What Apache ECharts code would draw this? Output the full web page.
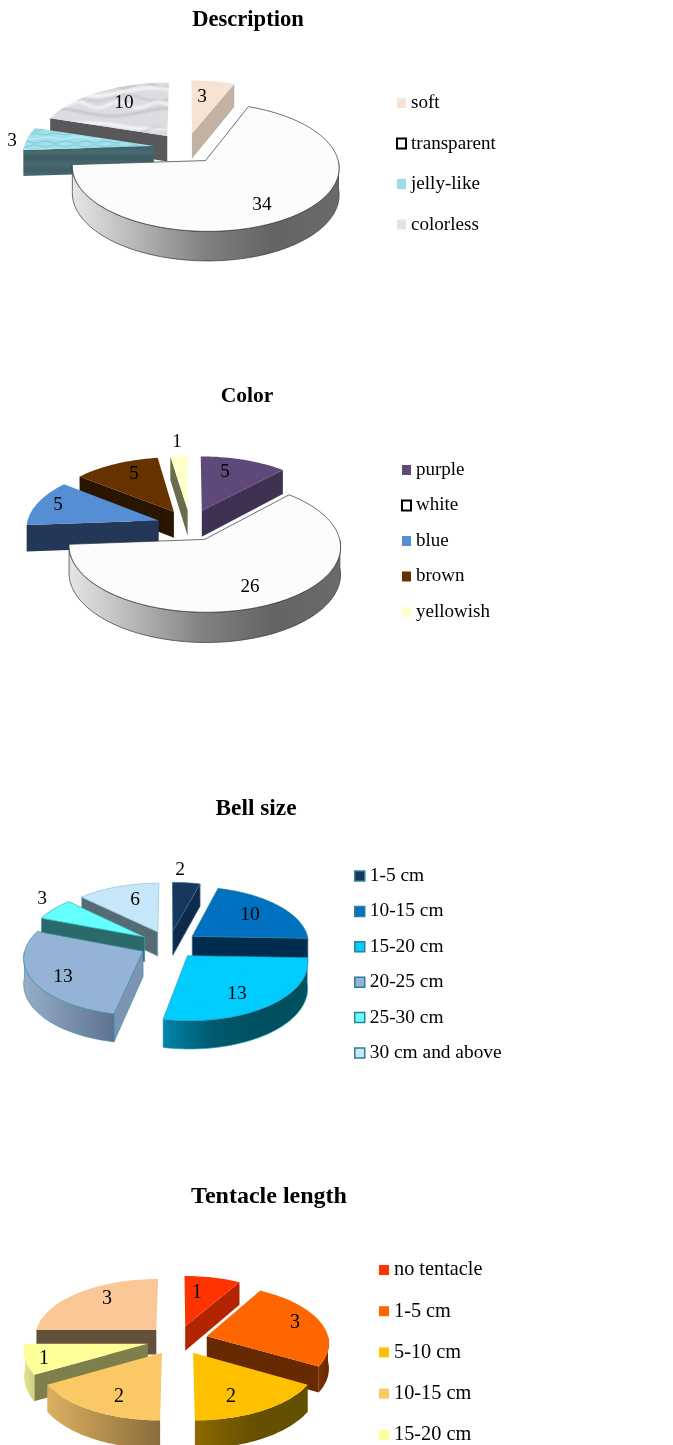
<!DOCTYPE html>
<html>
<head>
<meta charset="utf-8">
<title>Jellyfish charts</title>
<script src="https://cdn.jsdelivr.net/npm/echarts@6/dist/echarts.min.js"></script>
<style>
html, body { margin: 0; padding: 0; background: #fff; overflow: hidden; height: 1445px; }
.box { position: absolute; left: 0; width: 673px; }
</style>
</head>
<body>
<div class="box" id="desc-box" style="top:0;height:370px"></div>
<div class="box" id="color-box" style="top:370px;height:410px"></div>
<div class="box" id="bell-box" style="top:780px;height:390px"></div>
<div class="box" id="tent-box" style="top:1170px;height:275px"></div>
<script>
// data
var descCategories = ['soft', 'transparent', 'jelly-like', 'colorless'];
var descValues = [3, 34, 3, 10];

var colorCategories = ['purple', 'white', 'blue', 'brown', 'yellowish'];
var colorValues = [5, 26, 5, 5, 1];

var bellCategories = ['1-5 cm', '10-15 cm', '15-20 cm', '20-25 cm', '25-30 cm', '30 cm and above'];
var bellValues = [2, 10, 13, 13, 3, 6];

var tentCategories = ['no tentacle', '1-5 cm', '5-10 cm', '10-15 cm', '15-20 cm', '20 cm and above'];
var tentValues = [1, 3, 2, 2, 1, 3];

var FONT = '"Liberation Serif", "Times New Roman", serif';
var EXPLODE = 0.25;   // slice pull-out, as a share of the radius
var PERSP = 0.1;      // the far side of the disc is drawn smaller

function hGrad(stops) {
    var list = [];
    for (var i = 0; i < stops.length; i++) {
        list.push({ offset: stops.length > 1 ? i / (stops.length - 1) : 0, color: stops[i] });
    }
    return new echarts.graphic.LinearGradient(0, 0, 1, 0, list);
}
function stripes(x2, y2, stops) {
    var list = [];
    for (var i = 0; i < stops.length; i++) {
        list.push({ offset: i / (stops.length - 1), color: stops[i] });
    }
    return new echarts.graphic.LinearGradient(0, 0, x2, y2, list);
}

// wavy texture for the marble and water fills of the Description chart
function waveTexture(w, h, base, blur, veins) {
    var cv = document.createElement('canvas');
    cv.width = w;
    cv.height = h;
    var ctx = cv.getContext('2d');
    ctx.fillStyle = base;
    ctx.fillRect(0, 0, w, h);
    ctx.filter = 'blur(' + blur + 'px)';
    veins.forEach(function (v) {
        ctx.strokeStyle = v[0];
        ctx.lineWidth = v[1];
        ctx.beginPath();
        for (var x = -4; x <= w + 4; x += 2) {
            var y = v[2] + v[3] * Math.sin(x / w * 2 * Math.PI * v[4] + v[5]);
            if (x === -4) ctx.moveTo(x, y); else ctx.lineTo(x, y);
        }
        ctx.stroke();
    });
    return { image: cv, repeat: 'repeat' };
}

var GREY = 'rgba(135,137,145,0.5)';
var PALE = 'rgba(250,250,252,0.9)';
var marble = waveTexture(120, 60, '#dcdde0', 0.8, [
    [PALE, 3, 6, 3, 1, 0],
    [GREY, 1.2, 11, 4, 2, 0.5],
    [PALE, 2.5, 19, 3, 2, 2],
    [GREY, 1.6, 25, 3, 3, 1],
    [PALE, 3, 32, 4, 1, 3],
    [GREY, 1, 38, 3, 2, 4],
    [PALE, 2.5, 45, 3, 3, 5],
    [GREY, 1.4, 52, 4, 1, 2]
]);
var water = waveTexture(60, 12, '#a2e0ea', 0.4, [
    ['rgba(110,195,212,0.7)', 1.1, 2, 1, 3, 0],
    ['rgba(200,242,246,0.8)', 1.1, 6, 1, 2, 1],
    ['rgba(110,195,212,0.7)', 1.1, 10, 1, 3, 3]
]);

var whiteWall = ['#e6e6e6', '#b4b4b4', '#808080', '#646464', '#6a6a6a'];

var descStyle = {
    top: ['#f6e3d4', '#fcfcfc', water, marble],
    wall: [['#c2b2a4'], whiteWall, ['#44646c'], ['#555555']],
    side: ['#c2b2a4', '#888888',
        stripes(0, 1, ['#3f5f68', '#4a6a72', '#3c5c64', '#4a6a72', '#3f5f68', '#4a6a72']),
        '#58585a'],
    edge: [null, '#333333', null, null],
    legend: ['#f8e3d6', '#ffffff', '#9adbe6', '#e2e3e8']
};
var colorStyle = {
    top: ['#5f497a', '#fcfcfc', '#558ed5', '#663300', '#ffffcc'],
    wall: [['#3f3151'], whiteWall, ['#1f3858'], ['#2a1500'], ['#8a8a66']],
    side: ['#3f3151', '#888888', '#223856', '#2a1500', '#6b6b4e'],
    edge: [null, '#333333', null, null, null],
    legend: ['#5f497a', '#ffffff', '#558ed5', '#663300', '#ffffcc']
};
var bellStyle = {
    top: ['#17375e', '#0070c0', '#00ccff', '#95b3d7', '#66ffff', '#c6e6fa'],
    wall: [['#10294a'], ['#002d4f'], ['#0085a8', '#005a70', '#00505f', '#00505f'], ['#97aec9', '#5c7290'], ['#2a6a6a'], ['#556a75']],
    side: ['#10294a', '#002d4f', '#005a70', '#7d93b2', '#2a6a6a', '#556a75'],
    edge: ['#2f6f8a', '#2f7f9a', '#2f9fba', '#3f8fa5', '#3fa5aa', '#8fc0d5'],
    legend: ['#17375e', '#0070c0', '#00ccff', '#95b3d7', '#66ffff', '#c6e6fa'],
    legendBorder: '#2f7f95'
};
var tentStyle = {
    top: ['#ff3300', '#ff6600', '#ffc000', '#fac864', '#ffff99', '#fac896'],
    wall: [['#b32400'], ['#7a3100', '#662900'], ['#8e6a00', '#665000', '#615000'], ['#dcb060', '#8a6c3c'], ['#e2e290', '#d0d080'], ['#63503c']],
    side: ['#b32400', '#662900', '#665000', '#8a6c3c', '#7f7f4c', '#63503c'],
    edge: [null, null, null, null, null, null],
    legend: ['#ff3300', '#ff6600', '#ffc000', '#fac864', '#ffff99', '#fac896']
};

// sizes and positions, in px inside each chart box
// title: x, y, font size   legend: x, y of first row, row step, font size, swatch size
var descLayout = {
    cx: 186, cy: 148, r: 130, ry: 61, depth: 26,
    title: [248, 22.5, 22.6], legend: [396, 103, 40.5, 19.1, 9], labelSize: 19.3,
    labels: [[202, 97], [262, 204.5], [12, 141], [124, 103]]
};
var colorLayout = {
    cx: 190, cy: 155, r: 132, ry: 62.5, depth: 26.5,
    title: [247, 28, 21.5], legend: [401, 100, 35.5, 19, 9], labelSize: 19,
    labels: [[225, 102.5], [250, 217.5], [58, 135.5], [134, 104.5], [177, 72.5]]
};
var bellLayout = {
    cx: 169, cy: 164.5, r: 117, ry: 56, depth: 25,
    title: [256, 31, 23.4], legend: [354, 96, 35.4, 19.4, 10], labelSize: 19.5,
    labels: [[180, 89.5], [250, 134.5], [237, 213.5], [63, 196.5], [42, 118.5], [135, 119.5]]
};
var tentLayout = {
    cx: 177.5, cy: 170, r: 122, ry: 58, depth: 25,
    title: [269, 29, 24], legend: [379, 100, 41.2, 20.3, 10], labelSize: 20,
    labels: [[197, 122.5], [295, 152.5], [231, 226.5], [119, 226.5], [44, 188.5], [107, 128.5]]
};

function project(lay, u, v, h) {
    var p = 1 / (1 + PERSP * v);
    return [lay.cx + lay.r * u * p, lay.cy - lay.ry * v * p + h * p];
}

function rad(a) { return a * Math.PI / 180; }

// builds the faces of one wedge, angles are clockwise from 12 o'clock
function wedgeFaces(lay, a0, a1) {
    var mid = rad((a0 + a1) / 2);
    var ox = EXPLODE * Math.sin(mid), oy = EXPLODE * Math.cos(mid);
    var rim = [];
    var n = Math.max(2, Math.ceil((a1 - a0) / 2));
    for (var i = 0; i <= n; i++) {
        rim.push(a0 + (a1 - a0) * i / n);
    }
    function at(a, h) {
        return project(lay, ox + Math.sin(rad(a)), oy + Math.cos(rad(a)), h);
    }
    function apex(h) { return project(lay, ox, oy, h); }

    var top = [apex(0)];
    rim.forEach(function (a) { top.push(at(a, 0)); });

    // outer wall, only the part that faces the viewer
    var front = rim.filter(function (a) { return a >= 90 && a <= 270; });
    var wall = null;
    if (front.length > 1) {
        wall = [];
        front.forEach(function (a) { wall.push(at(a, 0)); });
        front.slice().reverse().forEach(function (a) { wall.push(at(a, lay.depth)); });
    }

    var sides = [];
    if (Math.sin(rad(a0)) < 0) {
        sides.push([apex(0), at(a0, 0), at(a0, lay.depth), apex(lay.depth)]);
    }
    if (Math.sin(rad(a1)) > 0.001) {
        sides.push([apex(0), at(a1, 0), at(a1, lay.depth), apex(lay.depth)]);
    }
    return { top: top, wall: wall, sides: sides };
}

function drawPie(domId, title, categories, values, style, lay) {
    var chart = echarts.init(document.getElementById(domId));
    var total = 0;
    values.forEach(function (v) { total += v; });

    var slices = [];
    var start = 0;
    values.forEach(function (v, i) {
        var sweep = v / total * 360;
        slices.push({ index: i, a0: start, a1: start + sweep });
        start += sweep;
    });
    // far slices first so the near ones paint over them
    var order = slices.slice().sort(function (a, b) {
        return Math.cos(rad((b.a0 + b.a1) / 2)) - Math.cos(rad((a.a0 + a.a1) / 2));
    });

    var series = order.map(function (s) {
        var i = s.index;
        return {
            type: 'custom',
            name: categories[i],
            coordinateSystem: 'none',
            silent: true,
            animation: false,
            data: [{ value: values[i], name: categories[i] }],
            renderItem: function (params, api) {
                var faces = wedgeFaces(lay, s.a0, s.a1);
                var edge = style.edge[i];
                var line = edge ? { stroke: edge, lineWidth: 0.7 } : {};
                var kids = [];
                faces.sides.forEach(function (pts) {
                    kids.push({
                        type: 'polygon', shape: { points: pts },
                        style: Object.assign({ fill: style.side[i] }, line)
                    });
                });
                if (faces.wall) {
                    var w = style.wall[i];
                    kids.push({
                        type: 'polygon', shape: { points: faces.wall },
                        style: Object.assign({ fill: w.length > 1 ? hGrad(w) : w[0] }, line)
                    });
                }
                kids.push({
                    type: 'polygon', shape: { points: faces.top },
                    style: Object.assign({ fill: style.top[i] }, line)
                });
                kids.push({
                    type: 'text', z2: 100,
                    style: {
                        text: String(api.value(0)),
                        x: lay.labels[i][0], y: lay.labels[i][1],
                        align: 'center', verticalAlign: 'middle',
                        font: lay.labelSize + 'px ' + FONT, fill: '#000'
                    }
                });
                return { type: 'group', children: kids };
            }
        };
    });

    var legendData = categories.map(function (name, i) {
        var white = style.legend[i] === '#ffffff';
        return {
            name: name,
            icon: 'rect',
            itemStyle: {
                color: style.legend[i],
                borderColor: white ? '#000' : (style.legendBorder || style.legend[i]),
                borderWidth: white ? 2 : (style.legendBorder ? 1.5 : 0)
            }
        };
    });

    chart.setOption({
        animation: false,
        title: {
            text: title,
            left: lay.title[0],
            top: lay.title[1] - lay.title[2] * 0.6,
            textAlign: 'center',
            padding: 0,
            textStyle: { fontFamily: FONT, fontWeight: 'bold', fontSize: lay.title[2], color: '#000' }
        },
        legend: {
            orient: 'vertical',
            left: lay.legend[0],
            top: lay.legend[1] - 10,
            height: 500,
            padding: 0,
            itemWidth: lay.legend[4],
            itemHeight: 10,
            itemGap: lay.legend[2] - 20,
            selectedMode: false,
            textStyle: { fontFamily: FONT, fontSize: lay.legend[3], color: '#000', lineHeight: 20 },
            data: legendData
        },
        series: series
    });
}

drawPie('desc-box', 'Description', descCategories, descValues, descStyle, descLayout);
drawPie('color-box', 'Color', colorCategories, colorValues, colorStyle, colorLayout);
drawPie('bell-box', 'Bell size', bellCategories, bellValues, bellStyle, bellLayout);
drawPie('tent-box', 'Tentacle length', tentCategories, tentValues, tentStyle, tentLayout);
</script>
</body>
</html>
